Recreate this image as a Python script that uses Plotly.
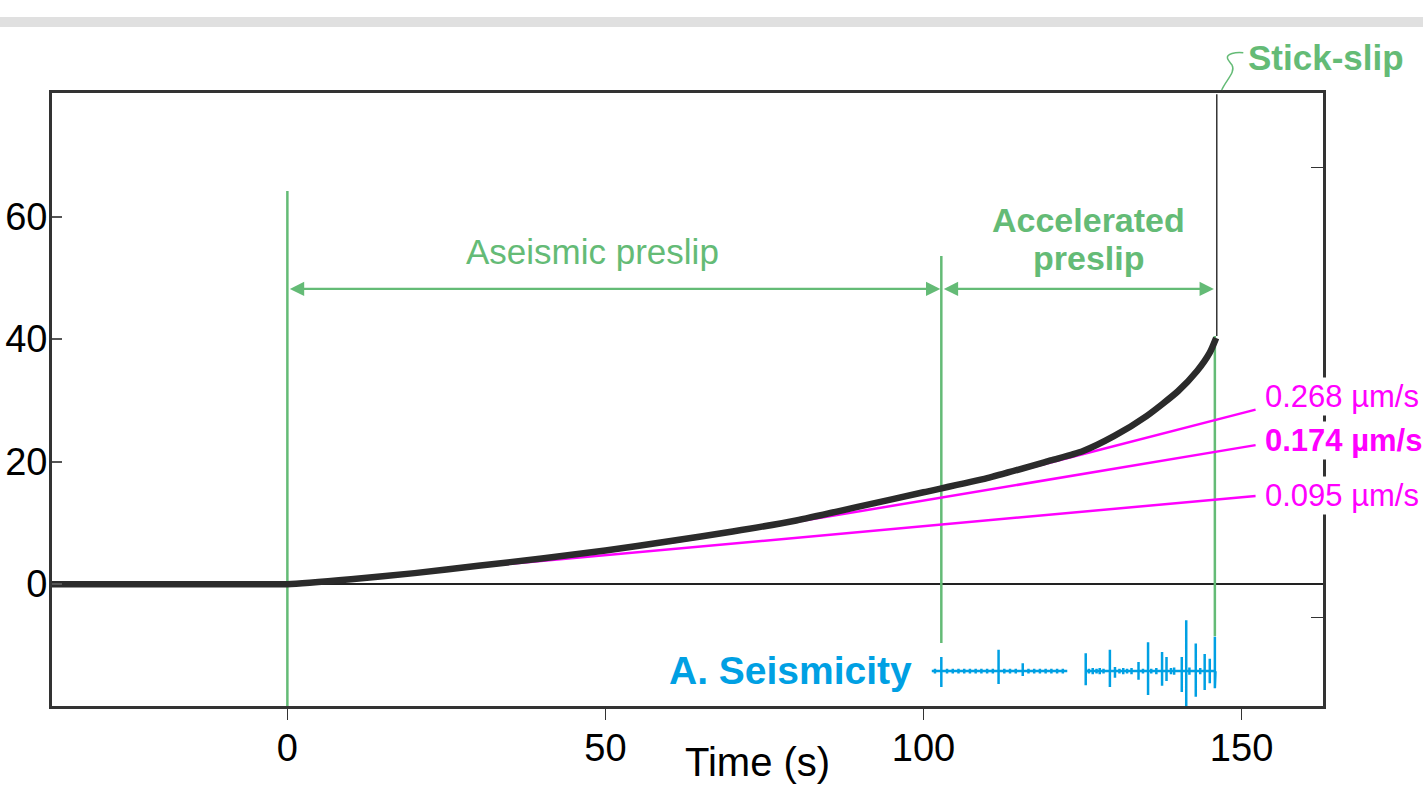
import plotly.graph_objects as go

# ---------------- data ----------------
time_s = [-37, -30, -20, -10, 0, 10, 20, 30, 40, 50, 60, 70, 80, 90, 100, 110, 120, 125, 130, 135, 140, 143, 145, 146]
disp_um = [0, 0, 0, 0, 0, 0.8, 1.8, 3.0, 4.2, 5.5, 7.0, 8.6, 10.4, 12.7, 15.0, 17.3, 20.2, 21.7, 24.2, 27.4, 31.5, 34.8, 37.8, 40.2]

rate_labels = ["0.268 µm/s", "<b>0.174 µm/s</b>", "0.095 µm/s"]
rate_t0 = [110, 60, 0]
rate_y0 = [17.2, 6.7, 0.0]
rate_t1 = [152.2, 152.2, 152.2]
rate_y1 = [28.5, 22.7, 14.4]
rate_label_y = [30.6, 23.4, 14.5]

phase_t = [0, 102.8, 145.8]
phase_top = [64.2, 53.6, 40.5]
phase_bottom = [-20, -9.6, -8.5]
arrow_y = 48.2

stickslip_t = 146.1
stickslip_y = [40.5, 80]

seis_base = -14.2
seis_segments = [(101.3, 122.6), (125.5, 145.9)]
seis_t = [101.8, 102.8, 103.7, 104.6, 105.5, 106.4, 107.3, 108.2, 109.1, 110.0, 110.9, 111.8, 112.7,
          113.6, 114.5, 115.6, 116.5, 117.4, 118.3, 119.2, 120.1, 121.0, 121.9,
          125.5, 126.0, 126.6, 127.2, 127.7, 128.3, 129.3, 130.1, 130.8, 131.4, 132.0, 132.7, 133.8,
          134.5, 135.3, 135.8, 136.6, 137.5, 138.2, 138.9, 139.4, 140.6, 141.3, 141.8, 142.8, 143.5,
          144.2, 145.0, 145.8]
seis_up = [0.4, 2.3, 0.4, 0.4, 0.4, 0.4, 0.4, 0.4, 0.4, 0.4, 0.4, 3.5, 0.4,
           0.4, 0.4, 1.3, 0.4, 0.4, 0.4, 0.4, 0.4, 0.4, 0.4,
           2.9, 0.4, 0.5, 0.4, 0.5, 0.4, 3.5, 0.65, 0.4, 0.5, 0.4, 0.5, 1.5,
           0.4, 4.7, 0.4, 0.5, 3.1, 2.3, 0.5, 0.6, 2.3, 8.3, 0.6, 4.5, 0.5,
           2.8, 2.0, 5.6]
seis_down = [0.4, 2.6, 0.4, 0.4, 0.4, 0.4, 0.4, 0.4, 0.4, 0.4, 0.4, 2.1, 0.4,
             0.4, 0.4, 0.8, 0.4, 0.4, 0.4, 0.4, 0.4, 0.4, 0.4,
             2.3, 0.4, 0.5, 0.4, 0.5, 0.4, 2.6, 1.1, 0.4, 0.5, 0.4, 0.5, 1.4,
             0.4, 3.9, 0.4, 0.5, 2.4, 1.6, 0.5, 0.6, 3.4, 5.8, 0.6, 4.2, 0.5,
             3.1, 2.0, 2.8]

x_ticks = [0, 50, 100, 150]
y_ticks = [0, 20, 40, 60]

# ---------------- styles ----------------
GREEN = "#64bb76"
MAGENTA = "#ff00ff"
BLUE = "#00a0e3"
DARK = "#2b2b2b"
SANS = "Liberation Sans, Arial, sans-serif"

W, H = 1423, 787
ML, MR, MT, MB = 52, 100, 93, 81
PW, PH = W - ML - MR, H - MT - MB


def px2paper(px, py):
    return (px - ML) / PW, (H - MB - py) / PH


fig = go.Figure()

# green phase boundaries
for t, top, bot in zip(phase_t, phase_top, phase_bottom):
    fig.add_trace(go.Scatter(x=[t, t], y=[bot, top], mode="lines",
                             line=dict(color=GREEN, width=2.5), hoverinfo="skip", showlegend=False))

# stick-slip black line
fig.add_trace(go.Scatter(x=[stickslip_t, stickslip_t], y=stickslip_y, mode="lines",
                         line=dict(color="#333333", width=1.5), hoverinfo="skip", showlegend=False))

# magenta rate lines
for t0, y0, t1, y1 in zip(rate_t0, rate_y0, rate_t1, rate_y1):
    fig.add_trace(go.Scatter(x=[t0, t1], y=[y0, y1], mode="lines",
                             line=dict(color=MAGENTA, width=2.5), hoverinfo="skip", showlegend=False))

# displacement curve
fig.add_trace(go.Scatter(x=time_s, y=disp_um, mode="lines",
                         line=dict(color=DARK, width=6.5, shape="spline", smoothing=0.6),
                         hoverinfo="skip", showlegend=False))

# seismicity trace
sx, sy = [], []
for s0, s1 in seis_segments:
    sx.append(s0); sy.append(seis_base)
    for t, u, d in zip(seis_t, seis_up, seis_down):
        if s0 <= t <= s1:
            sx += [t, t, t, t]
            sy += [seis_base, seis_base + u, seis_base - d, seis_base]
    sx.append(s1); sy.append(seis_base)
    sx.append(None); sy.append(None)
fig.add_trace(go.Scatter(x=sx, y=sy, mode="lines", line=dict(color=BLUE, width=2.5),
                         hoverinfo="skip", showlegend=False))

# dummy trace for right axis ticks
fig.add_trace(go.Scatter(x=[None], y=[None], yaxis="y2", showlegend=False, hoverinfo="skip"))

annotations = []
# double arrows
for a, b in [(0, 1), (1, 2)]:
    annotations.append(dict(x=phase_t[b], y=arrow_y, ax=phase_t[a], ay=arrow_y, xref="x", yref="y",
                            axref="x", ayref="y", showarrow=True, arrowside="end+start", arrowhead=2,
                            arrowsize=1.3, arrowwidth=2.2, arrowcolor=GREEN, text="",
                            standoff=1, startstandoff=1))
annotations.append(dict(x=47.9, y=54.4, xref="x", yref="y", text="Aseismic preslip", showarrow=False,
                        font=dict(family=SANS, size=35, color=GREEN)))
annotations.append(dict(x=125.9, y=59.5, xref="x", yref="y", text="<b>Accelerated</b>", showarrow=False,
                        font=dict(family=SANS, size=34, color=GREEN)))
annotations.append(dict(x=125.9, y=53.3, xref="x", yref="y", text="<b>preslip</b>", showarrow=False,
                        font=dict(family=SANS, size=34, color=GREEN)))
sx0, sy0 = px2paper(1246, 57)
annotations.append(dict(x=sx0, y=sy0, xref="paper", yref="paper", xanchor="left", yanchor="middle",
                        text="<b>Stick-slip</b>", showarrow=False, font=dict(family=SANS, size=35, color=GREEN)))
annotations.append(dict(x=79.1, y=-14.1, xref="x", yref="y", text="<b>A. Seismicity</b>", showarrow=False,
                        font=dict(family=SANS, size=39, color=BLUE)))
for lab, ly in zip(rate_labels, rate_label_y):
    annotations.append(dict(x=153.3, y=ly, xref="x", yref="y", xanchor="left", yanchor="middle", text=lab,
                            showarrow=False, bgcolor="white", borderpad=1,
                            font=dict(family=SANS, size=31, color=MAGENTA)))
tx, ty = px2paper(757, 786)
annotations.append(dict(x=tx, y=ty, xref="paper", yref="paper", text="Time (s)", showarrow=False,
                        xanchor="center", yanchor="bottom", font=dict(family=SANS, size=40, color="black")))

shapes = []
# gray band at top
gx0, gy0 = px2paper(0, 27)
gx1, gy1 = px2paper(W, 17)
shapes.append(dict(type="rect", xref="paper", yref="paper", x0=gx0, x1=gx1, y0=gy0, y1=gy1,
                   fillcolor="#e0e0e0", line=dict(width=0), layer="above"))
# stick-slip leader squiggle
pts = [(1221.7, 90), (1226, 80), (1236, 72), (1232, 65), (1228, 60), (1224, 56), (1232, 53.5), (1237, 52), (1243.3, 52.7)]
pp = [px2paper(a, b) for a, b in pts]
path = ("M {0[0]},{0[1]} C {1[0]},{1[1]} {2[0]},{2[1]} {3[0]},{3[1]} "
        "C {4[0]},{4[1]} {5[0]},{5[1]} {6[0]},{6[1]} Q {7[0]},{7[1]} {8[0]},{8[1]}").format(*pp)
shapes.append(dict(type="path", xref="paper", yref="paper", path=path, line=dict(color=GREEN, width=1.5)))

fig.update_layout(
    width=W, height=H,
    margin=dict(l=ML, r=MR, t=MT, b=MB, pad=0, autoexpand=False),
    paper_bgcolor="white", plot_bgcolor="white",
    showlegend=False,
    xaxis=dict(range=[-37, 162.8], tickvals=x_ticks, ticks="outside", ticklen=11, tickwidth=1, tickcolor="#333",
               showgrid=False, zeroline=False, showline=True, linecolor="#333", linewidth=3, mirror=True,
               automargin=False, ticklabelstandoff=-5, tickfont=dict(family=SANS, size=38, color="black")),
    yaxis=dict(range=[-19.9, 80.2], tickvals=y_ticks, ticks="inside", ticklen=10, tickwidth=1.5, tickcolor="#555",
               showgrid=False, zeroline=True, zerolinecolor="#222", zerolinewidth=2,
               showline=True, linecolor="#333", linewidth=3, mirror=True,
               automargin=False, ticklabelstandoff=-6, tickfont=dict(family=SANS, size=38, color="black")),
    yaxis2=dict(range=[0, 1], overlaying="y", side="right", tickvals=[0.145, 0.878], ticks="inside", ticklen=12,
                tickwidth=1, tickcolor="#333", showticklabels=False, showgrid=False, zeroline=False,
                showline=False, automargin=False),
    annotations=annotations,
    shapes=shapes,
)

fig.write_html("out.html")
